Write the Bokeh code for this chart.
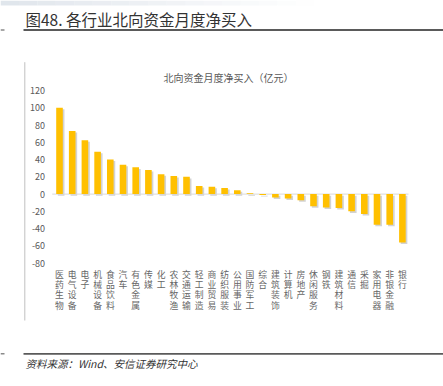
from bokeh.plotting import figure
from bokeh.models import Range1d, ColumnDataSource
from bokeh.embed import file_html
from bokeh.resources import INLINE

# ---- data ----
categories = ["医药生物", "电气设备", "电子", "机械设备", "食品饮料", "汽车", "有色金属",
              "传媒", "化工", "农林牧渔", "交通运输", "轻工制造", "商业贸易", "纺织服装",
              "公用事业", "国防军工", "综合", "建筑装饰", "计算机", "房地产", "休闲服务",
              "钢铁", "建筑材料", "通信", "采掘", "家用电器", "非银金融", "银行"]
net_buy = [100, 73, 62.5, 49, 40, 34, 31, 28, 23, 21, 20, 9.5, 8.5, 7, 4.5, 1, -1,
           -4, -5, -7, -14, -15.5, -16, -20, -23, -35.5, -35.5, -56]
y_ticks = [-80, -60, -40, -20, 0, 20, 40, 60, 80, 100, 120]

title_text = "图48. 各行业北向资金月度净买入"
chart_title = "北向资金月度净买入（亿元）"
source_text = "资料来源：Wind、安信证券研究中心"

# ---- layout (pixel helpers for decorations) ----
W, H = 443, 386
X0, BAND = 59.0, 12.7        # pixel centre of first bar, pixels per category
Y0, PPU = 193.6, 0.8635      # pixel of value 0, pixels per unit


def X(px):
    return (px - X0) / BAND


def Y(py):
    return (Y0 - py) / PPU


FONT = "Noto Sans CJK SC"
GREY = "#595959"

p = figure(width=W, height=H, output_backend="svg", toolbar_location=None,
           x_range=Range1d(X(0), X(W)), y_range=Range1d(Y(H), Y(0)),
           min_border=0)
p.axis.visible = False
p.grid.grid_line_color = None
p.outline_line_color = None
p.background_fill_color = "white"
p.border_fill_color = "white"

# top faint band
n_strip = 24
p.quad(left=[X(W * i / n_strip) for i in range(n_strip)],
       right=[X(W * (i + 1) / n_strip) for i in range(n_strip)],
       top=Y(0), bottom=Y(5), fill_color="#dde3ea",
       fill_alpha=[max(0.0, 0.9 - 1.3 * i / n_strip) for i in range(n_strip)],
       line_color=None)

# bars
idx = list(range(len(categories)))
sh = 1.8
src = ColumnDataSource(dict(
    x=idx, v=net_buy,
    xs=[i + 0.13 for i in idx],
    st=[max(v, 0) - sh for v in net_buy],
    sb=[min(v, 0) - sh for v in net_buy],
))
p.vbar(x="xs", top="st", bottom="sb", width=0.52, source=src,
       fill_color="#c4c4c4", fill_alpha=0.75, line_color=None)
p.segment(x0=X(51.7), y0=0, x1=X(408), y1=0, line_color="#d9d9d9", line_width=1)
p.vbar(x="x", top="v", bottom=0, width=0.52, source=src,
       fill_color="#FFC000", line_color=None)

# y tick labels
p.text(x=X(44.5), y=y_ticks, text=[str(t) for t in y_ticks], text_font={"value": FONT},
       text_font_size="9px", text_color=GREY, text_align="right", text_baseline="middle")

# category labels, stacked vertically char by char
cx, cy, ct = [], [], []
for i, c in enumerate(categories):
    for k, ch in enumerate(c):
        cx.append(i)
        cy.append(Y(273.5 + 10.4 * k))
        ct.append(ch)
p.text(x=cx, y=cy, text=ct, text_font={"value": FONT}, text_font_size="8.8px",
       text_color="#666666", text_align="center", text_baseline="middle")

# chart title
p.text(x=[X(228)], y=[Y(77)], text=[chart_title], text_font={"value": FONT},
       text_font_size="10px", text_color=GREY, text_align="center", text_baseline="middle")

# frame line on the left
p.segment(x0=X(24.3), y0=Y(61.7), x1=X(24.3), y1=Y(320), line_color="#c0c0c0", line_width=1)

# report title + rules
p.text(x=[X(25)], y=[Y(18.5)], text=[title_text], text_font={"value": FONT},
       text_font_size="15.5px", text_color="#333333", text_align="left", text_baseline="middle")
for yy in (29.5, 353.3):
    p.segment(x0=X(23), y0=Y(yy), x1=X(W), y1=Y(yy), line_color="#5a5a5a", line_width=1.8)
    p.segment(x0=X(0), y0=Y(yy), x1=X(4), y1=Y(yy), line_color="#8a8a8a", line_width=1.5)

# source
p.text(x=[X(25)], y=[Y(363)], text=[source_text], text_font={"value": FONT},
       text_font_size="10.5px", text_font_style="italic", text_color="#333333",
       text_align="left", text_baseline="middle")

open("out.html", "w").write(file_html(p, INLINE))
